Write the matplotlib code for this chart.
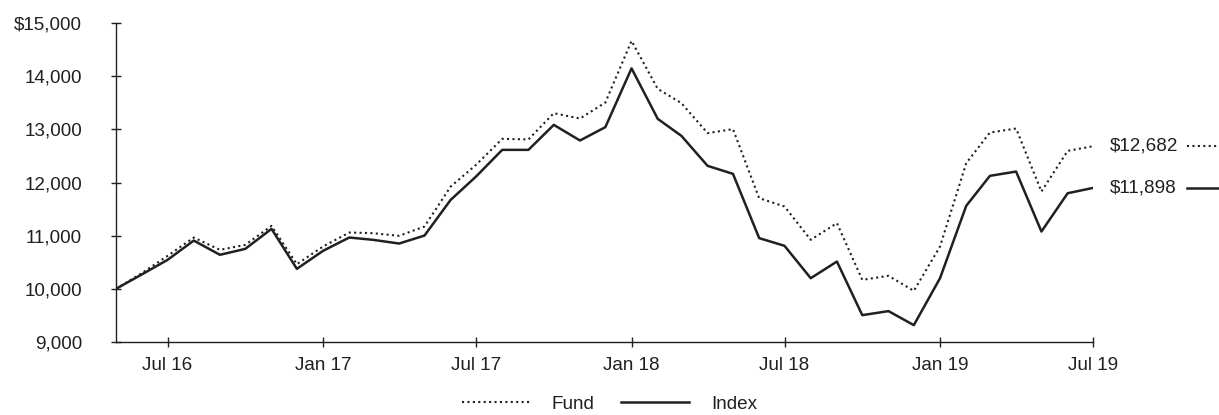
import pandas as pd
import numpy as np
import matplotlib
matplotlib.use('Agg')
import matplotlib.pyplot as plt
import matplotlib.dates as mdates
from matplotlib.lines import Line2D

plt.rcParams['font.family'] = ['Liberation Sans', 'DejaVu Sans']

# monthly values, May 2016 - Jul 2019 (growth of $10,000)
months = pd.date_range('2016-05-01', '2019-07-01', freq='MS')

fund = [10000, 10300, 10620, 10965, 10733, 10827, 11185, 10464, 10796, 11059,
        11047, 10997, 11172, 11924, 12332, 12821, 12810, 13304, 13203, 13504,
        14664, 13761, 13493, 12929, 13004, 11706, 11548, 10922, 11236, 10169,
        10245, 9962, 10796, 12363, 12940, 13015, 11830, 12595, 12682]

index = [10000, 10275, 10545, 10908, 10640, 10752, 11128, 10376, 10715, 10965,
         10922, 10852, 11002, 11674, 12112, 12614, 12614, 13084, 12790, 13041,
         14147, 13197, 12877, 12313, 12163, 10954, 10809, 10200, 10513, 9505,
         9581, 9317, 10200, 11561, 12125, 12206, 11078, 11798, 11898]

tick_dates = pd.to_datetime(['2016-07-01', '2017-01-01', '2017-07-01', '2018-01-01',
                             '2018-07-01', '2019-01-01', '2019-07-01'])
y_ticks = [9000, 10000, 11000, 12000, 13000, 14000, 15000]

ink = '#231f20'
fs = 13.6

fig = plt.figure(figsize=(12.19, 4.15), dpi=100)
ax = fig.add_axes([116 / 1219, 1 - 342 / 415, (1093 - 116) / 1219, (342 - 23) / 415])

dots = (0, (1, 1.6))
ax.plot(months, fund, color=ink, lw=1.5, linestyle=dots, label='Fund')
ax.plot(months, index, color=ink, lw=1.8, linestyle='-', label='Index')

ax.set_xlim(months[0], months[-1])
ax.set_ylim(9000, 15000)

ax.set_xticks(tick_dates)
ax.xaxis.set_major_formatter(mdates.DateFormatter('%b %y'))
ax.set_yticks(y_ticks)
ax.set_yticklabels([('$' if v == 15000 else '') + f'{v:,}' for v in y_ticks])

for s in ['top', 'right']:
    ax.spines[s].set_visible(False)
for s in ['left', 'bottom']:
    ax.spines[s].set_color(ink)
    ax.spines[s].set_linewidth(1.0)

ax.tick_params(axis='x', direction='inout', length=7, width=1, color=ink,
               labelsize=fs, labelcolor=ink, pad=7)
ax.tick_params(axis='y', direction='inout', length=7, width=1, color=ink,
               labelsize=fs, labelcolor=ink, pad=21)

# end value labels with line samples
for vals, style, lw in [(fund, dots, 1.5), (index, '-', 1.8)]:
    ax.annotate(f'${vals[-1]:,}', xy=(months[-1], vals[-1]), xytext=(17, 0),
                textcoords='offset pixels', ha='left', va='center',
                fontsize=fs, color=ink, annotation_clip=False)
    px, py = ax.transData.transform((mdates.date2num(months[-1]), vals[-1]))
    fig.add_artist(Line2D([1187 / 1219, 1219 / 1219], [py / 415, py / 415],
                          transform=fig.transFigure, color=ink, lw=lw,
                          linestyle=style))

ax.legend(loc='center', bbox_to_anchor=(0.5, 1 - 404 / 415), bbox_transform=fig.transFigure,
          ncol=2, frameon=False, fontsize=fs, handlelength=3.6, handletextpad=1.15,
          columnspacing=1.4, labelcolor=ink, borderpad=0.2)

fig.savefig('out.png', dpi=100)
